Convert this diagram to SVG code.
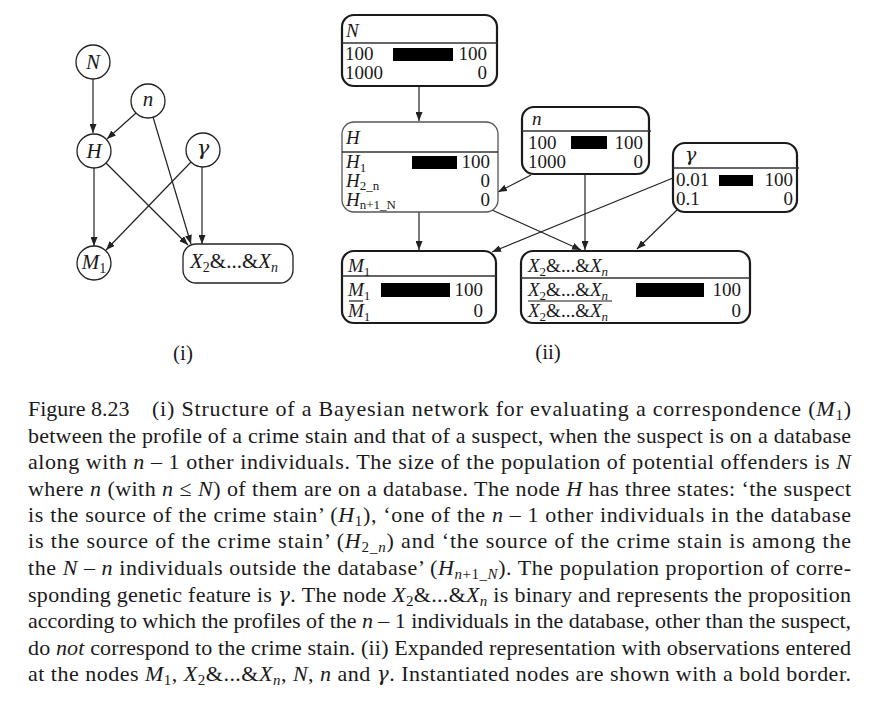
<svg xmlns="http://www.w3.org/2000/svg" width="886" height="702" viewBox="0 0 886 702">
<style>
text{font-family:"Liberation Serif","Times New Roman",serif;fill:#1a1a1a}
.it{font-style:italic}
.g{font-family:"DejaVu Serif",serif;font-style:italic}
.lbl{font-size:21px}
.bx{font-size:19px}
.cap{font-size:22px}
.r{text-anchor:end}
.c{text-anchor:middle}
.circ{fill:#fff;stroke:#222;stroke-width:1.3}
.nb{fill:#fff;stroke:#1a1a1a;stroke-width:2.2}
.nt{fill:#fff;stroke:#555;stroke-width:1.3}
.hd{stroke:#333;stroke-width:1.3}
.bar{fill:#000}
.ed{fill:none;stroke:#222;stroke-width:1.2;marker-end:url(#ah)}
.ov{stroke:#1a1a1a;stroke-width:1.2}
</style>
<defs>
<marker id="ah" markerUnits="userSpaceOnUse" markerWidth="9" markerHeight="7" refX="9" refY="3.5" orient="auto">
<path d="M0,0 L9,3.5 L0,7 z" fill="#222"/>
</marker>
</defs>
<rect width="886" height="702" fill="#fff"/>

<!-- (i) structure -->
<g id="edges-i">
<path class="ed" d="M93,79 L93,133"/>
<path class="ed" d="M136,113 L107,139"/>
<path class="ed" d="M153,117 L191,244"/>
<path class="ed" d="M94,168 L94,246"/>
<path class="ed" d="M106,163 L188,245"/>
<path class="ed" d="M191,162 L106,250"/>
<path class="ed" d="M202,167 L202,244"/>
</g>
<g id="i-N"><circle class="circ" cx="93" cy="62" r="17"/><text class="lbl it c" x="93" y="69">N</text></g>
<g id="i-n"><circle class="circ" cx="148" cy="101" r="17"/><text class="lbl it c" x="148" y="106">n</text></g>
<g id="i-H"><circle class="circ" cx="94" cy="151" r="17"/><text class="lbl it c" x="94" y="158">H</text></g>
<g id="i-gamma"><circle class="circ" cx="203" cy="150" r="17"/><text class="lbl g c" x="203" y="155" font-size="19">γ</text></g>
<g id="i-M1"><circle class="circ" cx="94" cy="263" r="17"/><text class="lbl c" x="94" y="269"><tspan class="it">M</tspan><tspan font-size="14" dy="4">1</tspan></text></g>
<g id="i-X"><rect class="circ" x="183" y="244" width="110" height="39" rx="13"/><text class="lbl" x="190" y="268"><tspan class="it">X</tspan><tspan font-size="14" dy="4">2</tspan><tspan dy="-4">&amp;...&amp;</tspan><tspan class="it">X</tspan><tspan class="it" font-size="14" dy="4">n</tspan></text></g>
<text class="lbl c" x="183" y="360">(i)</text>

<!-- (ii) expanded -->
<g id="edges-ii">
<path class="ed" d="M419,86 L419,121"/>
<path class="ed" d="M531,175 L498,192"/>
<path class="ed" d="M419,212 L419,250"/>
<path class="ed" d="M492,210 L581,250"/>
<path class="ed" d="M585,174 L585,250"/>
<path class="ed" d="M673,178 L492,252"/>
<path class="ed" d="M677,210 L637,249"/>
</g>

<g id="ii-N">
<rect class="nb" x="342" y="15" width="155" height="71" rx="12"/>
<line class="hd" x1="342" y1="43" x2="497" y2="43"/>
<text class="bx it" x="346" y="37">N</text>
<text class="bx" x="345" y="60">100</text>
<rect class="bar" x="393" y="48" width="60" height="13"/>
<text class="bx r" x="487" y="60">100</text>
<text class="bx" x="345" y="79">1000</text>
<text class="bx r" x="487" y="79">0</text>
</g>

<g id="ii-H">
<rect class="nt" x="342" y="122" width="156" height="90" rx="12"/>
<line class="hd" x1="342" y1="152" x2="498" y2="152"/>
<text class="bx it" x="346" y="144">H</text>
<text class="bx" x="346" y="168"><tspan class="it">H</tspan><tspan font-size="13" dy="4">1</tspan></text>
<rect class="bar" x="412" y="156" width="45" height="13"/>
<text class="bx r" x="490" y="168">100</text>
<text class="bx" x="346" y="187"><tspan class="it">H</tspan><tspan font-size="13" dy="3">2_n</tspan></text>
<text class="bx r" x="490" y="187">0</text>
<text class="bx" x="346" y="206"><tspan class="it">H</tspan><tspan font-size="13" dy="3">n+1_N</tspan></text>
<text class="bx r" x="490" y="206">0</text>
</g>

<g id="ii-n">
<rect class="nb" x="522" y="107" width="127" height="67" rx="12"/>
<line class="hd" x1="522" y1="131" x2="651" y2="131"/>
<text class="bx it" x="532" y="125">n</text>
<text class="bx" x="528" y="149">100</text>
<rect class="bar" x="571" y="136" width="36" height="13"/>
<text class="bx r" x="643" y="149">100</text>
<text class="bx" x="528" y="168">1000</text>
<text class="bx r" x="643" y="168">0</text>
</g>

<g id="ii-gamma">
<rect class="nb" x="673" y="143" width="124" height="69" rx="12"/>
<line class="hd" x1="673" y1="168" x2="799" y2="168"/>
<text class="bx g" x="685" y="161" font-size="17">γ</text>
<text class="bx" x="676" y="186">0.01</text>
<rect class="bar" x="719" y="175" width="34" height="11"/>
<text class="bx r" x="793" y="186">100</text>
<text class="bx" x="676" y="205">0.1</text>
<text class="bx r" x="793" y="205">0</text>
</g>

<g id="ii-M1">
<rect class="nb" x="342" y="251" width="154" height="72" rx="12"/>
<line class="hd" x1="342" y1="276" x2="496" y2="276"/>
<text class="bx" x="348" y="272"><tspan class="it">M</tspan><tspan font-size="13" dy="4">1</tspan></text>
<text class="bx" x="348" y="296"><tspan class="it">M</tspan><tspan font-size="13" dy="4">1</tspan></text>
<rect class="bar" x="381" y="283" width="69" height="14"/>
<text class="bx r" x="483" y="296">100</text>
<line class="ov" x1="349" y1="301" x2="363" y2="301"/>
<text class="bx" x="348" y="317"><tspan class="it">M</tspan><tspan font-size="13" dy="4">1</tspan></text>
<text class="bx r" x="483" y="317">0</text>
</g>

<g id="ii-X">
<rect class="nb" x="521" y="251" width="229" height="72" rx="12"/>
<line class="hd" x1="521" y1="278" x2="750" y2="278"/>
<text class="bx" x="528" y="272"><tspan class="it">X</tspan><tspan font-size="13" dy="4">2</tspan><tspan dy="-4">&amp;...&amp;</tspan><tspan class="it">X</tspan><tspan class="it" font-size="13" dy="4">n</tspan></text>
<text class="bx" x="528" y="296"><tspan class="it">X</tspan><tspan font-size="13" dy="4">2</tspan><tspan dy="-4">&amp;...&amp;</tspan><tspan class="it">X</tspan><tspan class="it" font-size="13" dy="4">n</tspan></text>
<rect class="bar" x="636" y="283" width="68" height="14"/>
<text class="bx r" x="741" y="296">100</text>
<line class="ov" x1="528" y1="301" x2="612" y2="301"/>
<text class="bx" x="528" y="317"><tspan class="it">X</tspan><tspan font-size="13" dy="4">2</tspan><tspan dy="-4">&amp;...&amp;</tspan><tspan class="it">X</tspan><tspan class="it" font-size="13" dy="4">n</tspan></text>
<text class="bx r" x="741" y="317">0</text>
</g>
<text class="lbl c" x="548" y="359">(ii)</text>

<!-- caption -->
<g id="caption">
<text class="cap" x="28" y="416">Figure 8.23</text>
<text class="cap" x="152" y="416" textLength="699" lengthAdjust="spacing">(i) Structure of a Bayesian network for evaluating a correspondence (<tspan class="it">M</tspan><tspan font-size="15" dy="4">1</tspan><tspan dy="-4">)</tspan></text>
<text class="cap" x="28" y="442.5" textLength="823" lengthAdjust="spacing">between the profile of a crime stain and that of a suspect, when the suspect is on a database</text>
<text class="cap" x="28" y="469" textLength="823" lengthAdjust="spacing">along with <tspan class="it">n</tspan> – 1 other individuals. The size of the population of potential offenders is <tspan class="it">N</tspan></text>
<text class="cap" x="28" y="495.5" textLength="823" lengthAdjust="spacing">where <tspan class="it">n</tspan> (with <tspan class="it">n</tspan> ≤ <tspan class="it">N</tspan>) of them are on a database. The node <tspan class="it">H</tspan> has three states: ‘the suspect</text>
<text class="cap" x="28" y="522" textLength="823" lengthAdjust="spacing">is the source of the crime stain’ (<tspan class="it">H</tspan><tspan font-size="15" dy="4">1</tspan><tspan dy="-4">), ‘one of the </tspan><tspan class="it">n</tspan> – 1 other individuals in the database</text>
<text class="cap" x="28" y="548" textLength="823" lengthAdjust="spacing">is the source of the crime stain’ (<tspan class="it">H</tspan><tspan font-size="15" dy="4">2_</tspan><tspan class="it" font-size="15">n</tspan><tspan dy="-4">) and ‘the source of the crime stain is among the</tspan></text>
<text class="cap" x="28" y="575" textLength="823" lengthAdjust="spacing">the <tspan class="it">N</tspan> – <tspan class="it">n</tspan> individuals outside the database’ (<tspan class="it">H</tspan><tspan class="it" font-size="15" dy="4">n</tspan><tspan font-size="15">+1_</tspan><tspan class="it" font-size="15">N</tspan><tspan dy="-4">). The population proportion of corre-</tspan></text>
<text class="cap" x="28" y="601.5" textLength="823" lengthAdjust="spacing">sponding genetic feature is <tspan class="g" font-size="20">γ</tspan>. The node <tspan class="it">X</tspan><tspan font-size="15" dy="4">2</tspan><tspan dy="-4">&amp;...&amp;</tspan><tspan class="it">X</tspan><tspan class="it" font-size="15" dy="4">n</tspan><tspan dy="-4"> is binary and represents the proposition</tspan></text>
<text class="cap" x="28" y="628" textLength="823" lengthAdjust="spacing">according to which the profiles of the <tspan class="it">n</tspan> – 1 individuals in the database, other than the suspect,</text>
<text class="cap" x="28" y="654.5" textLength="823" lengthAdjust="spacing">do <tspan class="it">not</tspan> correspond to the crime stain. (ii) Expanded representation with observations entered</text>
<text class="cap" x="28" y="681" textLength="823" lengthAdjust="spacing">at the nodes <tspan class="it">M</tspan><tspan font-size="15" dy="4">1</tspan><tspan dy="-4">, </tspan><tspan class="it">X</tspan><tspan font-size="15" dy="4">2</tspan><tspan dy="-4">&amp;...&amp;</tspan><tspan class="it">X</tspan><tspan class="it" font-size="15" dy="4">n</tspan><tspan dy="-4">, </tspan><tspan class="it">N</tspan>, <tspan class="it">n</tspan> and <tspan class="g" font-size="20">γ</tspan>. Instantiated nodes are shown with a bold border.</text>
</g>
</svg>
